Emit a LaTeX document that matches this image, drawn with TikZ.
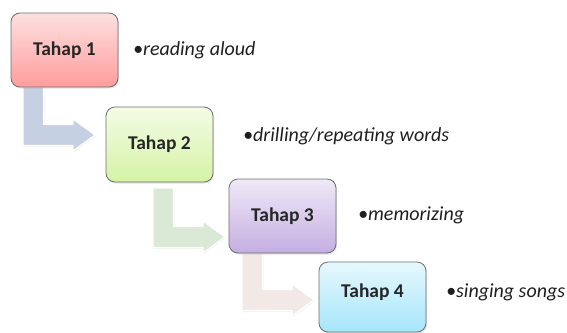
\documentclass[tikz,border=0pt]{standalone}
\usepackage{fontspec}
\setmainfont{Carlito}
\usetikzlibrary{calc,shadows}
\definecolor{boxborder}{HTML}{6E6E6E}
\definecolor{labeltext}{HTML}{262626}
\definecolor{notetext}{HTML}{1F1F1F}
\definecolor{aOneTop}{HTML}{FDE0E0}
\definecolor{aOneBot}{HTML}{FF9C9C}
\definecolor{aTwoTop}{HTML}{F4FCE6}
\definecolor{aTwoBot}{HTML}{D4F3A5}
\definecolor{aThreeTop}{HTML}{EFE9F7}
\definecolor{aThreeBot}{HTML}{C5AEE2}
\definecolor{aFourTop}{HTML}{E6F8FD}
\definecolor{aFourBot}{HTML}{A6E6FA}
\definecolor{arrBlue}{HTML}{C6D0E3}
\definecolor{arrGreen}{HTML}{D9E9D6}
\definecolor{arrPink}{HTML}{F2E9E7}
\newcommand\fatbend[3]{%
  \filldraw[fatarrow, fill=#3] let \p1=(#1), \p2=(#2) in
    (\x1,\y1) -- (\x1,\y2-10.5pt) -- (\x2-22pt,\y2-10.5pt) -- (\x2-22pt,\y2-16pt)
    -- (\x2,\y2) -- (\x2-22pt,\y2+16pt) -- (\x2-22pt,\y2+10.5pt)
    -- (\x1+20.5pt,\y2+10.5pt) -- (\x1+20.5pt,\y1) -- cycle;
}
\begin{document}
\begin{tikzpicture}[x=1pt,y=-1pt,
  stepbox/.style={draw=boxborder, line width=0.8pt, rounded corners=9pt,
    minimum width=107pt, minimum height=74pt,
    font=\fontsize{19.5}{21}\selectfont\bfseries, text=labeltext,
    drop shadow={opacity=0.22, shadow xshift=1pt, shadow yshift=-1.5pt}},
  note/.style={anchor=base west, inner sep=0pt,
    font=\fontsize{20}{22}\selectfont\itshape, text=notetext},
  fatarrow/.style={draw=white, line width=1.2pt, line join=miter,
    drop shadow={opacity=0.15, shadow xshift=0.8pt, shadow yshift=-1pt}}
]
\useasboundingbox (0,0) rectangle (567,332);

\coordinate (b1) at (64.5,50);
\coordinate (b2) at (159.5,144.5);
\coordinate (b3) at (282.5,216);
\coordinate (b4) at (372.5,297);

% arrows (drawn first, under the boxes)
\coordinate (s1) at ($(b1)+(-41.5,37)$);
\coordinate (e1) at ($(b2)+(-64.5,-9.5)$);
\coordinate (s2) at ($(b2)+(-6.5,43.5)$);
\coordinate (e2) at ($(b3)+(-57.5,21)$);
\coordinate (s3) at ($(b3)+(-40.5,37)$);
\coordinate (e3) at ($(b4)+(-58.5,3)$);
\fatbend{s1}{e1}{arrBlue}
\fatbend{s2}{e2}{arrGreen}
\fatbend{s3}{e3}{arrPink}

\node[stepbox, top color=aOneTop, bottom color=aOneBot] (t1) at (b1) {Tahap 1};
\node[stepbox, top color=aTwoTop, bottom color=aTwoBot, minimum height=75pt] (t2) at (b2) {Tahap 2};
\node[stepbox, top color=aThreeTop, bottom color=aThreeBot] (t3) at (b3) {Tahap 3};
\node[stepbox, top color=aFourTop, bottom color=aFourBot, minimum height=70pt, text depth=13pt] (t4) at (b4) {Tahap 4};

\node[note] (n1) at (133,55) {•reading aloud};
\node[note] (n2) at (243,141) {•drilling/repeating words};
\node[note] (n3) at (358,220) {•memorizing};
\node[note] (n4) at (446,297) {•singing songs};
\end{tikzpicture}
\end{document}
